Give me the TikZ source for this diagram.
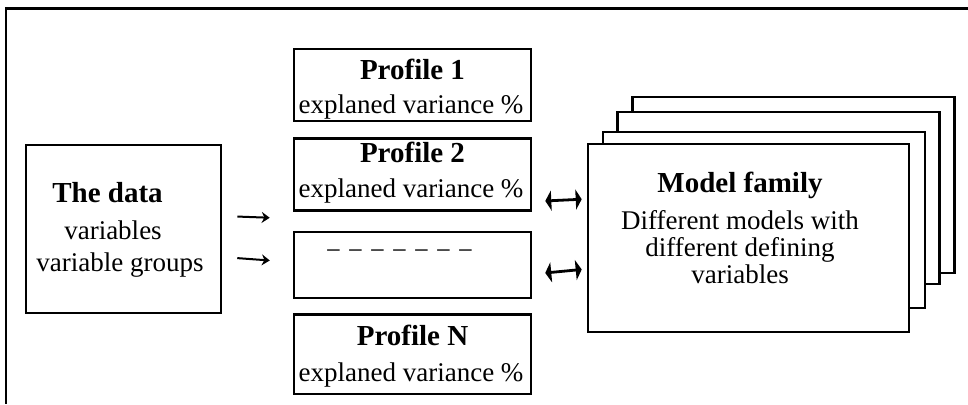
\documentclass[tikz,border=0pt]{standalone}
\usepackage{fontspec}
\setmainfont{Liberation Serif}
\usetikzlibrary{shapes,arrows.meta,positioning}
\tikzstyle{box}=[rectangle,draw,line width=2.6pt,fill=white,inner sep=0pt]
\tikzstyle{prof}=[box,minimum width=237pt,minimum height=72pt]
\tikzstyle{fambox}=[box,minimum width=322pt]
\tikzstyle{head}=[anchor=base,inner sep=0pt,font=\fontsize{29}{34}\selectfont\bfseries]
\tikzstyle{txt}=[anchor=base,inner sep=0pt,font=\fontsize{27}{32}\selectfont]
\tikzstyle{arr}=[-{Stealth[length=8pt,width=11pt]},line width=2pt]
\tikzstyle{dbl}=[{Triangle[length=6pt,width=20pt]}-{Triangle[length=6pt,width=20pt]},line width=2.8pt]

\begin{document}
\begin{tikzpicture}[x=1pt,y=1pt]
\useasboundingbox (0,0) rectangle (968,404);
\draw[line width=2.6pt] (968,395.5) -- (6,395.5) -- (6,0);
\node[box,minimum width=195pt,minimum height=168pt] (data) at (123.5,175) {};
\node[head] (dataa) at (107.5,201) {The data};
\node[txt] (datab) at (113,164) {variables};
\node[txt] (datac) at (120,132) {variable groups};
\node[prof] (p1) at (412.5,319) {};
\node[prof, below=15pt of p1] (p2) {};
\node[prof, below=19pt of p2, minimum height=66pt] (dots) {};
\node[prof, below=14pt of dots, minimum height=79pt] (pn) {};
\node[head] (p1a) at (412.5,324) {Profile 1};
\node[txt] (p1b) at (411,290) {explaned variance \%};
\node[head] (p2a) at (412.5,241) {Profile 2};
\node[txt] (p2b) at (411,206) {explaned variance \%};
\node[txt] (dotsa) at (399.5,144.5) {− − − − − − −};
\node[head] (pna) at (412.5,59) {Profile N};
\node[txt] (pnb) at (411,23) {explaned variance \%};
\node[fambox,minimum height=176pt] (fam4) at (793.5,219) {};
\node[fambox,minimum height=172pt] (fam3) at (778.5,206) {};
\node[fambox,minimum height=176pt] (fam2) at (764,184) {};
\node[fambox,minimum height=188pt,minimum width=321pt] (fam) at (748.5,166) {};
\node[head] (fama) at (740,211) {Model family};
\node[txt] (famb) at (740,174) {Different models with};
\node[txt] (famc) at (740,147) {different defining};
\node[txt] (famd) at (740,120) {variables};
\draw[arr,shorten <=15pt,shorten >=23pt] ([yshift=13pt]data.east) -- ([yshift=-44pt]p2.west);
\draw[arr,shorten <=15pt,shorten >=23pt] ([yshift=-28pt]data.east) -- ([yshift=3pt]dots.west);
\draw[dbl,shorten <=13pt,shorten >=5pt] ([yshift=-27pt]p2.east) -- ([yshift=39pt]fam.west);
\draw[dbl,shorten <=13pt,shorten >=5pt] ([yshift=-9pt]dots.east) -- ([yshift=-31pt]fam.west);
\end{tikzpicture}
\end{document}
